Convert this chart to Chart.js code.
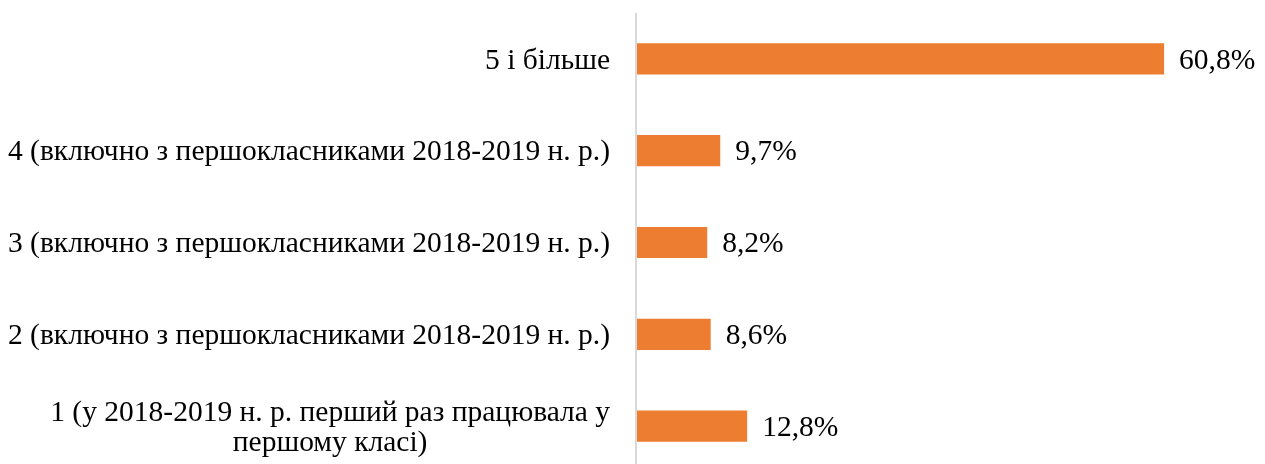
<!DOCTYPE html>
<html lang="uk">
<head>
    <meta charset="UTF-8">
    <title>Стаж</title>
    <script src="https://cdn.jsdelivr.net/npm/chart.js"></script>
    <style>
        html, body { margin: 0; padding: 0; background: #fff; overflow: hidden; }
        .chart { position: relative; width: 1265px; height: 472px; }
    </style>
</head>
<body>
    <div class="chart">
        <canvas id="expChart"></canvas>
    </div>

    <script>
        // categories from top to bottom
        const categories = [
            '5 і більше',
            '4 (включно з першокласниками 2018-2019 н. р.)',
            '3 (включно з першокласниками 2018-2019 н. р.)',
            '2 (включно з першокласниками 2018-2019 н. р.)',
            ['1 (у 2018-2019 н. р. перший раз працювала у', 'першому класі)']
        ];
        const shares = [60.8, 9.7, 8.2, 8.6, 12.8];

        const FONT = '"Liberation Serif", "Times New Roman", serif';

        // category labels: right aligned, extra lines centred under the widest line
        const catLabels = {
            id: 'catLabels',
            afterDraw(chart) {
                const ctx = chart.ctx;
                const y = chart.scales.y;
                const right = chart.chartArea.left - 26;
                ctx.save();
                ctx.font = '29.5px ' + FONT;
                ctx.fillStyle = '#000';
                ctx.textBaseline = 'middle';
                ctx.textAlign = 'center';
                categories.forEach((lab, i) => {
                    const lines = Array.isArray(lab) ? lab : [lab];
                    const w = Math.max(...lines.map(l => ctx.measureText(l).width));
                    const cx = right - w / 2;
                    const lh = 30;
                    const cy = y.getPixelForValue(i) + 2;
                    lines.forEach((l, k) => {
                        ctx.fillText(l, cx, cy + (k - (lines.length - 1) / 2) * lh);
                    });
                });
                ctx.restore();
            }
        };

        const valueLabels = {
            id: 'valueLabels',
            afterDatasetsDraw(chart) {
                const ctx = chart.ctx;
                const meta = chart.getDatasetMeta(0);
                ctx.save();
                ctx.font = '29.5px ' + FONT;
                ctx.fillStyle = '#000';
                ctx.textBaseline = 'middle';
                ctx.textAlign = 'left';
                meta.data.forEach((bar, i) => {
                    const txt = shares[i].toFixed(1).replace('.', ',') + '%';
                    ctx.fillText(txt, bar.x + 15, bar.y + 2);
                });
                ctx.restore();
            }
        };

        new Chart(document.getElementById('expChart'), {
            type: 'bar',
            data: {
                labels: categories,
                datasets: [{
                    data: shares,
                    backgroundColor: '#ED7D31',
                    borderWidth: 0,
                    barPercentage: 0.34,
                    categoryPercentage: 1
                }]
            },
            options: {
                indexAxis: 'y',
                responsive: true,
                maintainAspectRatio: false,
                animation: false,
                layout: {
                    padding: { left: 636, right: 21, top: 13, bottom: 0 }
                },
                plugins: {
                    legend: { display: false },
                    tooltip: { enabled: false }
                },
                scales: {
                    x: {
                        min: 0,
                        max: 70,
                        ticks: { display: false },
                        border: { display: false },
                        grid: {
                            drawTicks: false,
                            color: ctx => ctx.tick && ctx.tick.value === 0 ? '#d9d9d9' : 'rgba(0,0,0,0)',
                            lineWidth: 2
                        }
                    },
                    y: {
                        ticks: { display: false },
                        border: { display: false },
                        grid: { display: false, drawTicks: false }
                    }
                }
            },
            plugins: [catLabels, valueLabels]
        });
    </script>
</body>
</html>
